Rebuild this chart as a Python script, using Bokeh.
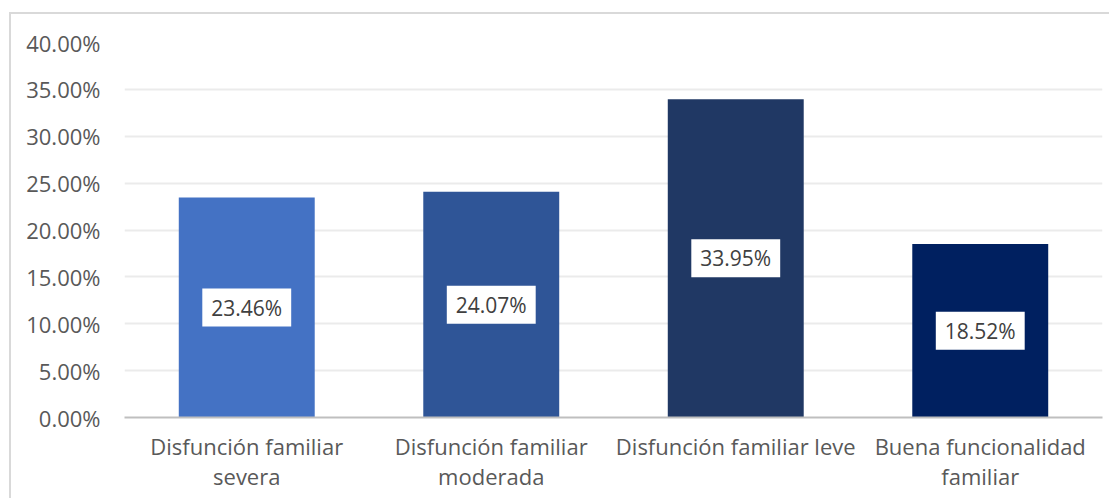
from bokeh.plotting import figure
from bokeh.models import ColumnDataSource, NumeralTickFormatter, SingleIntervalTicker, FixedTicker, LinearAxis
from bokeh.core.properties import value
from bokeh.embed import file_html
from bokeh.resources import INLINE

label_line1 = ["Disfunción familiar", "Disfunción familiar", "Disfunción familiar leve", "Buena funcionalidad"]
label_line2 = ["severa", "moderada", "", "familiar"]
categories = [(a + " " + b).strip() for a, b in zip(label_line1, label_line2)]
values = [0.2346, 0.2407, 0.3395, 0.1852]
colors = ["#4472C4", "#2F5597", "#203864", "#002060"]
labels = ["23.46%", "24.07%", "33.95%", "18.52%"]

pos = list(range(len(categories)))
src = ColumnDataSource(dict(
    x=pos, cat=categories, val=values, col=colors, lab=labels,
    mid=[v / 2 for v in values],
))

FONT = "Open Sans"

p = figure(x_range=(-0.5, len(categories) - 0.5), y_range=(0, 0.40),
           width=1100, height=486, output_backend="svg", toolbar_location=None,
           min_border_left=113, min_border_right=9, min_border_top=28, min_border_bottom=83)
p.styles = {"border-top": "2px solid #D9D9D9", "border-left": "2px solid #D9D9D9"}
p.margin = (12, 0, 0, 9)
p.outline_line_color = None
p.background_fill_color = "white"
p.border_fill_color = "white"

p.vbar(x="x", top="val", width=0.556, fill_color="col", line_color=None, source=src)
p.text(x="x", y="mid", text="lab", source=src, text_align="center", text_baseline="middle",
       text_font=value(FONT), text_font_size="21px", text_color="#404040",
       background_fill_color="white", padding=(9, 5))

p.yaxis.ticker = SingleIntervalTicker(interval=0.05)
p.yaxis.formatter = NumeralTickFormatter(format="0.00%")
p.yaxis.axis_line_color = None
p.yaxis.major_tick_line_color = None
p.yaxis.minor_tick_line_color = None
p.yaxis.major_label_standoff = 18
p.yaxis.major_label_text_font = FONT
p.yaxis.major_label_text_font_size = "22px"
p.yaxis.major_label_text_color = "#595959"

ax1 = p.xaxis[0]
ax1.ticker = FixedTicker(ticks=pos)
ax1.axis_line_color = "#BFBFBF"
ax1.axis_line_width = 2
ax1.major_tick_line_color = None
ax1.minor_tick_line_color = None
ax1.major_label_standoff = 7
ax1.major_label_text_font = FONT
ax1.major_label_text_font_size = "22px"
ax1.major_label_text_color = "#595959"
ax1.major_label_overrides = {i: t for i, t in zip(pos, label_line1)}

ax2 = LinearAxis(ticker=FixedTicker(ticks=pos))
ax2.axis_line_color = None
ax2.major_tick_line_color = None
ax2.minor_tick_line_color = None
ax2.major_label_standoff = -9
ax2.major_label_text_font = FONT
ax2.major_label_text_font_size = "22px"
ax2.major_label_text_color = "#595959"
ax2.major_label_overrides = {i: (t if t else " ") for i, t in zip(pos, label_line2)}
p.add_layout(ax2, "below")

p.xgrid.grid_line_color = None
p.ygrid.grid_line_color = "#EBEBEB"
p.ygrid.grid_line_width = 2

open("out.html", "w").write(file_html(p, INLINE))
